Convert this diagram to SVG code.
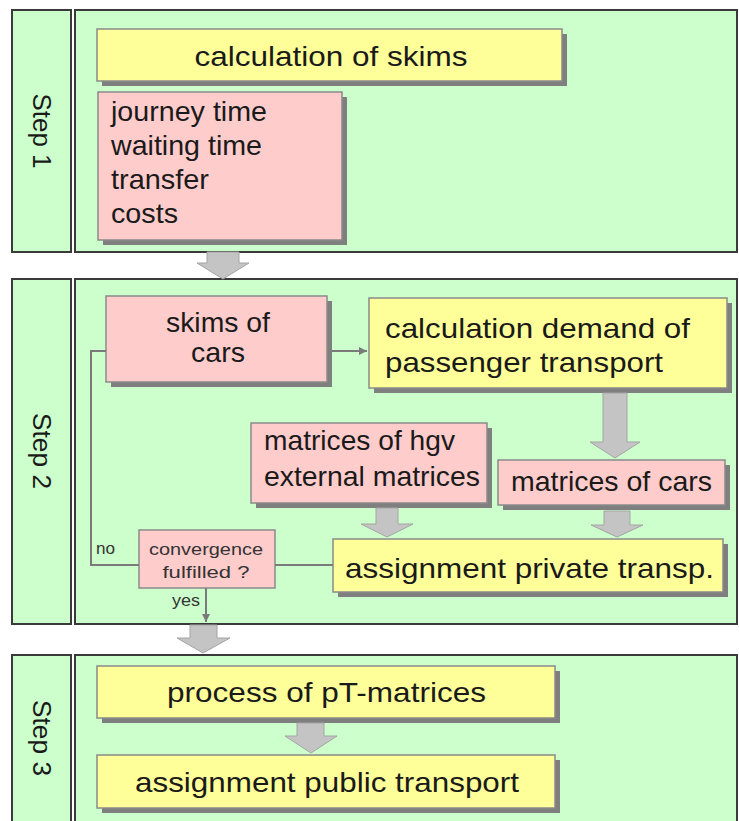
<svg xmlns="http://www.w3.org/2000/svg" width="739" height="821" viewBox="0 0 739 821">
<style>
.panel{fill:#ccffcc;stroke:#3a3a3a;stroke-width:2}
.sh{fill:#7f7f7f}
.yel{fill:#ffff99;stroke:#8a8a8a;stroke-width:1.5}
.pink{fill:#ffcccc;stroke:#8a8a8a;stroke-width:1.5}
.t{font-family:"Liberation Sans",Arial,sans-serif;fill:#1a1a1a;font-size:28px}
.ts{font-family:"Liberation Sans",Arial,sans-serif;fill:#1a1a1a;font-size:26px}
.tm{font-family:"Liberation Sans",Arial,sans-serif;fill:#333;font-size:17px}
.tl{font-family:"Liberation Sans",Arial,sans-serif;fill:#333;font-size:16px}
.blk{fill:#c4c4c4;stroke:#a4a4a4;stroke-width:1}
.ln{fill:none;stroke:#7a7a7a;stroke-width:2}
</style>
<defs>
<marker id="ah" viewBox="0 0 10 10" refX="10" refY="5" markerWidth="4" markerHeight="4" orient="auto" markerUnits="strokeWidth">
<path d="M0,0 L10,5 L0,10 Z" fill="#7a7a7a"/>
</marker>
</defs>
<rect width="739" height="821" fill="#ffffff"/>

<g id="step1">
<rect class="panel" x="12" y="10" width="59" height="242"/>
<rect class="panel" x="75" y="10" width="662" height="242"/>
<text class="ts" transform="translate(33,131) rotate(90)" text-anchor="middle" textLength="75" lengthAdjust="spacingAndGlyphs">Step 1</text>
</g>
<g id="step2">
<rect class="panel" x="12" y="279" width="59" height="345"/>
<rect class="panel" x="75" y="279" width="662" height="345"/>
<text class="ts" transform="translate(33,451) rotate(90)" text-anchor="middle" textLength="76" lengthAdjust="spacingAndGlyphs">Step 2</text>
</g>
<g id="step3">
<rect class="panel" x="12" y="655" width="59" height="180"/>
<rect class="panel" x="75" y="655" width="662" height="180"/>
<text class="ts" transform="translate(33,738) rotate(90)" text-anchor="middle" textLength="76" lengthAdjust="spacingAndGlyphs">Step 3</text>
</g>

<g id="calc-skims">
<rect class="sh" x="102" y="34" width="465" height="52"/>
<rect class="yel" x="97" y="29" width="465" height="52"/>
<text class="t" x="331" y="66" text-anchor="middle" textLength="273" lengthAdjust="spacingAndGlyphs">calculation of skims</text>
</g>
<g id="skim-list">
<rect class="sh" x="103" y="97" width="244" height="148"/>
<rect class="pink" x="98" y="92" width="244" height="148"/>
<text class="t" x="111" y="121" textLength="156" lengthAdjust="spacingAndGlyphs">journey time</text>
<text class="t" x="111" y="155" textLength="151" lengthAdjust="spacingAndGlyphs">waiting time</text>
<text class="t" x="111" y="189" textLength="98" lengthAdjust="spacingAndGlyphs">transfer</text>
<text class="t" x="111" y="223" textLength="67" lengthAdjust="spacingAndGlyphs">costs</text>
</g>

<g id="skims-cars">
<rect class="sh" x="111" y="301" width="221" height="86"/>
<rect class="pink" x="106" y="296" width="221" height="86"/>
<text class="t" x="218" y="332" text-anchor="middle" textLength="104" lengthAdjust="spacingAndGlyphs">skims of</text>
<text class="t" x="218" y="362" text-anchor="middle" textLength="54" lengthAdjust="spacingAndGlyphs">cars</text>
</g>
<g id="calc-demand">
<rect class="sh" x="374" y="303" width="358" height="90"/>
<rect class="yel" x="369" y="298" width="358" height="90"/>
<text class="t" x="385" y="338" textLength="305" lengthAdjust="spacingAndGlyphs">calculation demand of</text>
<text class="t" x="385" y="372" textLength="278" lengthAdjust="spacingAndGlyphs">passenger transport</text>
</g>
<g id="hgv">
<rect class="sh" x="256" y="428" width="236" height="80"/>
<rect class="pink" x="251" y="423" width="236" height="80"/>
<text class="t" x="264" y="450" textLength="191" lengthAdjust="spacingAndGlyphs">matrices of hgv</text>
<text class="t" x="264" y="486" textLength="216" lengthAdjust="spacingAndGlyphs">external matrices</text>
</g>
<g id="cars-matrices">
<rect class="sh" x="503" y="465" width="227" height="45"/>
<rect class="pink" x="498" y="460" width="227" height="45"/>
<text class="t" x="511" y="491" textLength="201" lengthAdjust="spacingAndGlyphs">matrices of cars</text>
</g>
<g id="assign-private">
<rect class="sh" x="338" y="544" width="390" height="53"/>
<rect class="yel" x="333" y="539" width="390" height="53"/>
<text class="t" x="345" y="578" textLength="369" lengthAdjust="spacingAndGlyphs">assignment private transp.</text>
</g>
<g id="convergence">
<rect class="pink" x="139" y="530" width="136" height="58"/>
<text class="tm" x="206" y="555" text-anchor="middle" textLength="114" lengthAdjust="spacingAndGlyphs">convergence</text>
<text class="tm" x="206" y="578" text-anchor="middle" textLength="87" lengthAdjust="spacingAndGlyphs">fulfilled ?</text>
</g>

<g id="process-pt">
<rect class="sh" x="102" y="671" width="458" height="52"/>
<rect class="yel" x="97" y="666" width="458" height="52"/>
<text class="t" x="167" y="702" textLength="319" lengthAdjust="spacingAndGlyphs">process of pT-matrices</text>
</g>
<g id="assign-public">
<rect class="sh" x="102" y="760" width="458" height="53"/>
<rect class="yel" x="97" y="755" width="458" height="53"/>
<text class="t" x="135" y="792" textLength="384" lengthAdjust="spacingAndGlyphs">assignment public transport</text>
</g>

<g id="connectors">
<path class="blk" d="M207,252 H239 V263 H249 L223,279 L197,263 H207 Z"/>
<path class="blk" d="M603,393 H627 V442 H640 L615,458 L590,442 H603 Z"/>
<path class="blk" d="M376,508 H398 V524 H413 L387,537 L361,524 H376 Z"/>
<path class="blk" d="M604,511 H630 V525 H643 L617,537 L591,525 H604 Z"/>
<path class="blk" d="M190,625 H217 V638 H230 L203,653 L177,638 H190 Z"/>
<path class="blk" d="M297,723 H324 V736 H337 L311,753 L285,736 H297 Z"/>
<line class="ln" x1="332" y1="351" x2="367" y2="351" marker-end="url(#ah)"/>
<line class="ln" x1="333" y1="565" x2="275" y2="565"/>
<polyline class="ln" points="139,565 91,565 91,351 106,351"/>
<line class="ln" x1="206" y1="588" x2="206" y2="622" marker-end="url(#ah)"/>
<text class="tl" x="96" y="554" textLength="19" lengthAdjust="spacingAndGlyphs">no</text>
<text class="tl" x="172" y="606" textLength="28" lengthAdjust="spacingAndGlyphs">yes</text>
</g>
</svg>
